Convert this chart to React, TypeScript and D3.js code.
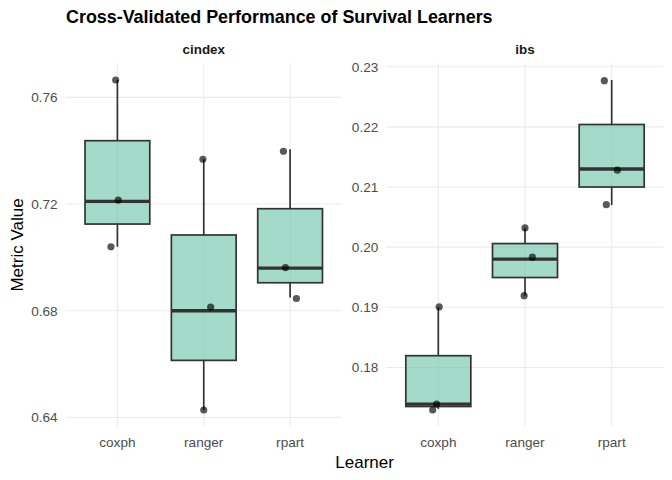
import * as d3 from "d3";
import { useEffect, useRef } from "react";

// Cross-validation fold results per learner (3 folds)
const learners = ["coxph", "ranger", "rpart"];
const metrics = ["cindex", "ibs"];

const cindexValues: number[][] = [
    [0.7665, 0.721, 0.704],
    [0.7368, 0.68, 0.6428],
    [0.7405, 0.696, 0.685],
];
const ibsValues: number[][] = [
    [0.19, 0.1739, 0.1731],
    [0.2032, 0.198, 0.1919],
    [0.2278, 0.213, 0.207],
];

// jittered point positions as drawn (value and horizontal offset in category steps)
const cindexPoints: number[][] = [
    [0.7665, 0.7215, 0.704],
    [0.7368, 0.6814, 0.6428],
    [0.7398, 0.6962, 0.6846],
];
const ibsPoints: number[][] = [
    [0.19006, 0.1739, 0.17292],
    [0.2032, 0.19834, 0.19193],
    [0.22768, 0.2128, 0.20706],
];
const cindexJitter: number[][] = [
    [-0.02, 0.01, -0.075],
    [-0.01, 0.08, 0],
    [-0.077, -0.054, 0.073],
];
const ibsJitter: number[][] = [
    [0.01, -0.02, -0.065],
    [0, 0.085, -0.01],
    [-0.085, 0.065, -0.062],
];

const cindexTicks = [0.64, 0.68, 0.72, 0.76];
const ibsTicks = [0.18, 0.19, 0.2, 0.21, 0.22, 0.23];

const FONT = "'Liberation Sans', Arial, sans-serif";

function drawChart(svgElement: SVGSVGElement) {
    const svg = d3.select(svgElement);
    svg.selectAll("*").remove();

    const width = 672;
    const height = 480;
    svg.attr("width", width).attr("height", height);

    const top = 63.5;
    const bottom = 426.5;
    const panels = [
        { name: metrics[0], x0: 65.6, x1: 341.9, values: cindexValues, points: cindexPoints, jitter: cindexJitter, ticks: cindexTicks },
        { name: metrics[1], x0: 386.3, x1: 663.7, values: ibsValues, points: ibsPoints, jitter: ibsJitter, ticks: ibsTicks },
    ];

    // Title
    svg.append("text")
        .attr("x", 66)
        .attr("y", 23)
        .style("font-family", FONT)
        .style("font-size", "17.9px")
        .style("font-weight", "700")
        .style("fill", "#000")
        .text("Cross-Validated Performance of Survival Learners");

    panels.forEach((p) => {
        const all = p.points.flat().concat(p.values.flat());
        const [lo, hi] = d3.extent(all) as [number, number];
        const pad = (hi - lo) * 0.05;
        const y = d3.scaleLinear().domain([lo - pad, hi + pad]).range([bottom, top]);
        const x = d3.scalePoint<string>().domain(learners).range([p.x0, p.x1]).padding(0.6);
        const step = x.step();
        const boxW = step * 0.75;

        const g = svg.append("g");

        // gridlines
        g.selectAll(".hgrid")
            .data(p.ticks)
            .join("line")
            .attr("x1", p.x0)
            .attr("x2", p.x1)
            .attr("y1", (d) => y(d))
            .attr("y2", (d) => y(d))
            .attr("stroke", "#ebebeb")
            .attr("stroke-width", 1.1);
        g.selectAll(".vgrid")
            .data(learners)
            .join("line")
            .attr("x1", (d) => x(d)!)
            .attr("x2", (d) => x(d)!)
            .attr("y1", top)
            .attr("y2", bottom)
            .attr("stroke", "#ebebeb")
            .attr("stroke-width", 1.1);

        // y tick labels
        g.selectAll(".ytick")
            .data(p.ticks)
            .join("text")
            .attr("x", p.x0 - 8)
            .attr("y", (d) => y(d))
            .attr("dy", "0.36em")
            .attr("text-anchor", "end")
            .style("font-family", FONT)
            .style("font-size", "13.6px")
            .style("fill", "#4d4d4d")
            .text((d) => d3.format(".2f")(d));

        // x tick labels
        g.selectAll(".xtick")
            .data(learners)
            .join("text")
            .attr("x", (d) => x(d)!)
            .attr("y", 446.5)
            .attr("text-anchor", "middle")
            .style("font-family", FONT)
            .style("font-size", "13.6px")
            .style("fill", "#4d4d4d")
            .text((d) => d);

        // strip label
        g.append("text")
            .attr("x", (p.x0 + p.x1) / 2)
            .attr("y", 53.5)
            .attr("text-anchor", "middle")
            .style("font-family", FONT)
            .style("font-size", "13.4px")
            .style("font-weight", "700")
            .style("fill", "#1a1a1a")
            .text(p.name);

        // boxplots
        learners.forEach((l, i) => {
            const vals = p.values[i].slice().sort(d3.ascending);
            const q1 = d3.quantile(vals, 0.25)!;
            const med = d3.quantile(vals, 0.5)!;
            const q3 = d3.quantile(vals, 0.75)!;
            const cx = x(l)!;
            const bg = g.append("g");

            bg.append("line")
                .attr("x1", cx).attr("x2", cx)
                .attr("y1", y(vals[vals.length - 1])).attr("y2", y(q3))
                .attr("stroke", "#333").attr("stroke-width", 1.7);
            bg.append("line")
                .attr("x1", cx).attr("x2", cx)
                .attr("y1", y(vals[0])).attr("y2", y(q1))
                .attr("stroke", "#333").attr("stroke-width", 1.7);

            bg.append("rect")
                .attr("x", cx - boxW / 2)
                .attr("y", y(q3))
                .attr("width", boxW)
                .attr("height", y(q1) - y(q3))
                .attr("fill", "#66C2A5")
                .attr("fill-opacity", 0.6)
                .attr("stroke", "#333")
                .attr("stroke-width", 1.7);

            bg.append("line")
                .attr("x1", cx - boxW / 2).attr("x2", cx + boxW / 2)
                .attr("y1", y(med)).attr("y2", y(med))
                .attr("stroke", "#333").attr("stroke-width", 3.3);

            // jittered fold points
            bg.selectAll("circle")
                .data(p.points[i])
                .join("circle")
                .attr("cx", (d, j) => cx + p.jitter[i][j] * step)
                .attr("cy", (d) => y(d))
                .attr("r", 3.6)
                .attr("fill", "#000")
                .attr("fill-opacity", 0.65);
        });
    });

    // axis titles
    svg.append("text")
        .attr("x", 364.6)
        .attr("y", 467.5)
        .attr("text-anchor", "middle")
        .style("font-family", FONT)
        .style("font-size", "17px")
        .style("fill", "#000")
        .text("Learner");

    svg.append("text")
        .attr("transform", `translate(22.5, ${(top + bottom) / 2}) rotate(-90)`)
        .attr("text-anchor", "middle")
        .style("font-family", FONT)
        .style("font-size", "17px")
        .style("fill", "#000")
        .text("Metric Value");
}

export default function App() {
    const chartRef = useRef<SVGSVGElement | null>(null);

    useEffect(() => {
        if (chartRef.current) drawChart(chartRef.current);
    }, []);

    return (
        <div style={{ position: "absolute", left: 0, top: 0 }}>
            <svg ref={chartRef} style={{ display: "block", background: "#fff" }}></svg>
        </div>
    );
}
